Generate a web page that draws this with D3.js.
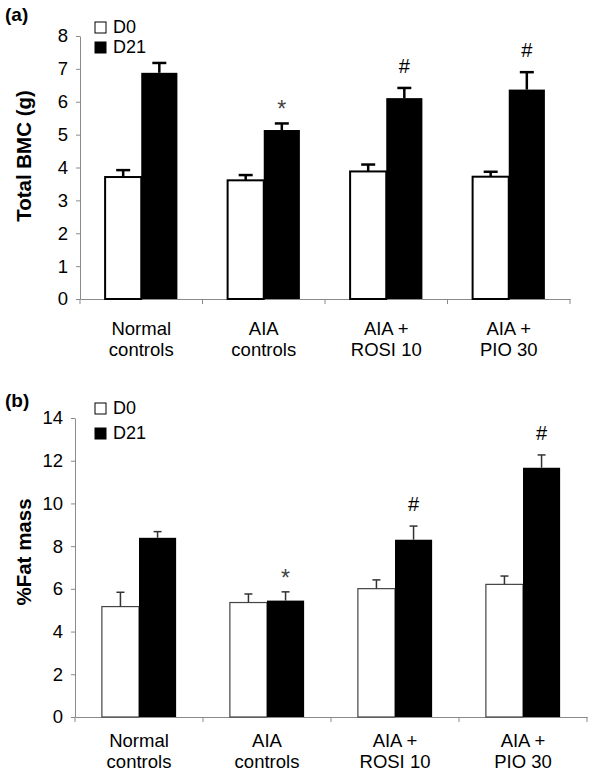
<!DOCTYPE html>
<html>
<head>
<meta charset="utf-8">
<script src="https://cdn.jsdelivr.net/npm/d3@7"></script>
<style>
  body { margin: 0; background: #fff; }
  svg { display: block; font-family: "Liberation Sans", Arial, sans-serif; }
</style>
</head>
<body>
<svg width="600" height="777"></svg>
<script>
// Categorías y series
const categories = [["Normal", "controls"], ["AIA", "controls"], ["AIA +", "ROSI 10"], ["AIA +", "PIO 30"]];
const seriesNames = ["D0", "D21"];

// (a) Total BMC (g)
const bmcD0 = [3.71, 3.61, 3.88, 3.72];
const bmcD0Err = [0.21, 0.16, 0.21, 0.15];
const bmcD21 = [6.88, 5.14, 6.11, 6.37];
const bmcD21Err = [0.30, 0.20, 0.31, 0.53];
const bmcMarks = ["", "*", "#", "#"];
const bmcTicks = [0, 1, 2, 3, 4, 5, 6, 7, 8];

// (b) %Fat mass
const fatD0 = [5.17, 5.36, 6.01, 6.21];
const fatD0Err = [0.67, 0.40, 0.41, 0.39];
const fatD21 = [8.39, 5.45, 8.30, 11.67];
const fatD21Err = [0.29, 0.41, 0.64, 0.60];
const fatMarks = ["", "*", "#", "#"];
const fatTicks = [0, 2, 4, 6, 8, 10, 12, 14];

const svg = d3.select("svg");

function drawPanel(p) {
  const g = svg.append("g");

  const y = d3.scaleLinear().domain([0, p.ticks[p.ticks.length - 1]]).range([p.y0, p.yTop]);
  const x0 = d3.scaleBand().domain(d3.range(categories.length)).range([p.left, p.right]);
  const bw = x0.bandwidth();
  const x1 = d3.scaleBand().domain(seriesNames).range([bw * p.inner, bw * (1 - p.inner)]);

  // Filas de datos por barra
  const rows = [];
  categories.forEach((c, i) => {
    rows.push({ i, s: "D0", v: p.d0[i], e: p.d0Err[i], mark: "" });
    rows.push({ i, s: "D21", v: p.d21[i], e: p.d21Err[i], mark: p.marks[i] });
  });

  // Eje Y
  const yAxis = g.append("g")
    .attr("transform", `translate(${p.left},0)`)
    .call(d3.axisLeft(y).tickValues(p.ticks).tickSize(4).tickSizeOuter(0).tickPadding(8));
  yAxis.select(".domain").attr("stroke", "#8a8a8a");
  yAxis.selectAll(".tick line").attr("stroke", "#8a8a8a");
  yAxis.selectAll(".tick text").attr("font-size", 18.5).attr("fill", "#000")
    .attr("font-family", "Liberation Sans, Arial, sans-serif");

  // Eje X (solo línea y marcas entre categorías)
  const xAxis = g.append("g")
    .attr("transform", `translate(0,${p.y0})`)
    .call(d3.axisBottom(x0).tickSize(0).tickSizeOuter(0).tickFormat(""));
  xAxis.select(".domain").attr("stroke", "#8a8a8a");
  const bounds = x0.domain().map(d => x0(d)).concat([p.right]);
  g.append("g").selectAll("line")
    .data(bounds)
    .join("line")
    .attr("x1", d => d).attr("x2", d => d)
    .attr("y1", p.y0).attr("y2", p.y0 + 5)
    .attr("stroke", "#8a8a8a");

  // Barras
  g.append("g").selectAll("rect")
    .data(rows)
    .join("rect")
    .attr("x", d => x0(d.i) + x1(d.s))
    .attr("y", d => y(d.v))
    .attr("width", x1.bandwidth())
    .attr("height", d => y(0) - y(d.v))
    .attr("fill", d => d.s === "D0" ? "#fff" : "#000")
    .attr("stroke", d => d.s === "D0" ? p.barStroke : "none")
    .attr("stroke-width", p.barStrokeW);

  // Barras de error (solo hacia arriba)
  const cx = d => x0(d.i) + x1(d.s) + x1.bandwidth() / 2;
  const err = g.append("g").attr("stroke", p.errColor).attr("stroke-width", p.errW);
  err.selectAll("line.v")
    .data(rows)
    .join("line")
    .attr("class", "v")
    .attr("x1", cx).attr("x2", cx)
    .attr("y1", d => y(d.v)).attr("y2", d => y(d.v + d.e));
  err.selectAll("line.c")
    .data(rows)
    .join("line")
    .attr("class", "c")
    .attr("x1", d => cx(d) - p.cap / 2).attr("x2", d => cx(d) + p.cap / 2)
    .attr("y1", d => y(d.v + d.e)).attr("y2", d => y(d.v + d.e));

  // Marcas de significancia
  g.append("g").selectAll("text")
    .data(rows.filter(d => d.mark))
    .join("text")
    .attr("x", cx)
    .attr("y", d => y(d.v + d.e) - (d.mark === "*" ? 6 : 15))
    .attr("text-anchor", "middle")
    .attr("font-size", d => d.mark === "*" ? 23 : 20)
    .attr("fill", d => d.mark === "*" ? "#444" : "#000")
    .text(d => d.mark);

  // Etiquetas de categorías
  const labels = g.append("g").selectAll("text")
    .data(categories)
    .join("text")
    .attr("text-anchor", "middle")
    .attr("font-size", 18.5)
    .attr("fill", "#000");
  labels.each(function(lines, i) {
    d3.select(this).selectAll("tspan")
      .data(lines)
      .join("tspan")
      .attr("x", x0(i) + bw / 2)
      .attr("y", (d, k) => p.labelY + k * 21)
      .text(d => d);
  });

  // Título del eje Y
  g.append("text")
    .attr("transform", `translate(${p.titleX},${p.titleY}) rotate(-90)`)
    .attr("text-anchor", "middle")
    .attr("font-size", 20.5)
    .attr("font-weight", "bold")
    .text(p.title);

  // Etiqueta del panel
  g.append("text")
    .attr("x", 5).attr("y", p.tagY)
    .attr("font-size", 19)
    .attr("font-weight", "bold")
    .text(p.tag);

  // Leyenda
  const leg = g.append("g").selectAll("g")
    .data(seriesNames)
    .join("g")
    .attr("transform", (d, k) => `translate(95,${p.legY + k * p.legGap})`);
  leg.append("rect")
    .attr("width", 11).attr("height", 11)
    .attr("fill", d => d === "D0" ? "#fff" : "#000")
    .attr("stroke", "#000").attr("stroke-width", 1);
  leg.append("text")
    .attr("x", 18).attr("y", 11)
    .attr("font-size", 18)
    .text(d => d);
}

drawPanel({
  d0: bmcD0, d0Err: bmcD0Err, d21: bmcD21, d21Err: bmcD21Err, marks: bmcMarks, ticks: bmcTicks,
  left: 80, right: 570, y0: 299, yTop: 36, inner: 0.205,
  barStroke: "#000", barStrokeW: 2, errColor: "#000", errW: 2.5, cap: 14,
  labelY: 335, title: "Total BMC (g)", titleX: 31, titleY: 156,
  tag: "(a)", tagY: 21, legY: 22, legGap: 20
});

drawPanel({
  d0: fatD0, d0Err: fatD0Err, d21: fatD21, d21Err: fatD21Err, marks: fatMarks, ticks: fatTicks,
  left: 75, right: 587, y0: 717, yTop: 418, inner: 0.21,
  barStroke: "#444", barStrokeW: 1.2, errColor: "#333", errW: 1.5, cap: 8,
  labelY: 747, title: "%Fat mass", titleX: 31, titleY: 552,
  tag: "(b)", tagY: 407, legY: 403, legGap: 25
});
</script>
</body>
</html>
